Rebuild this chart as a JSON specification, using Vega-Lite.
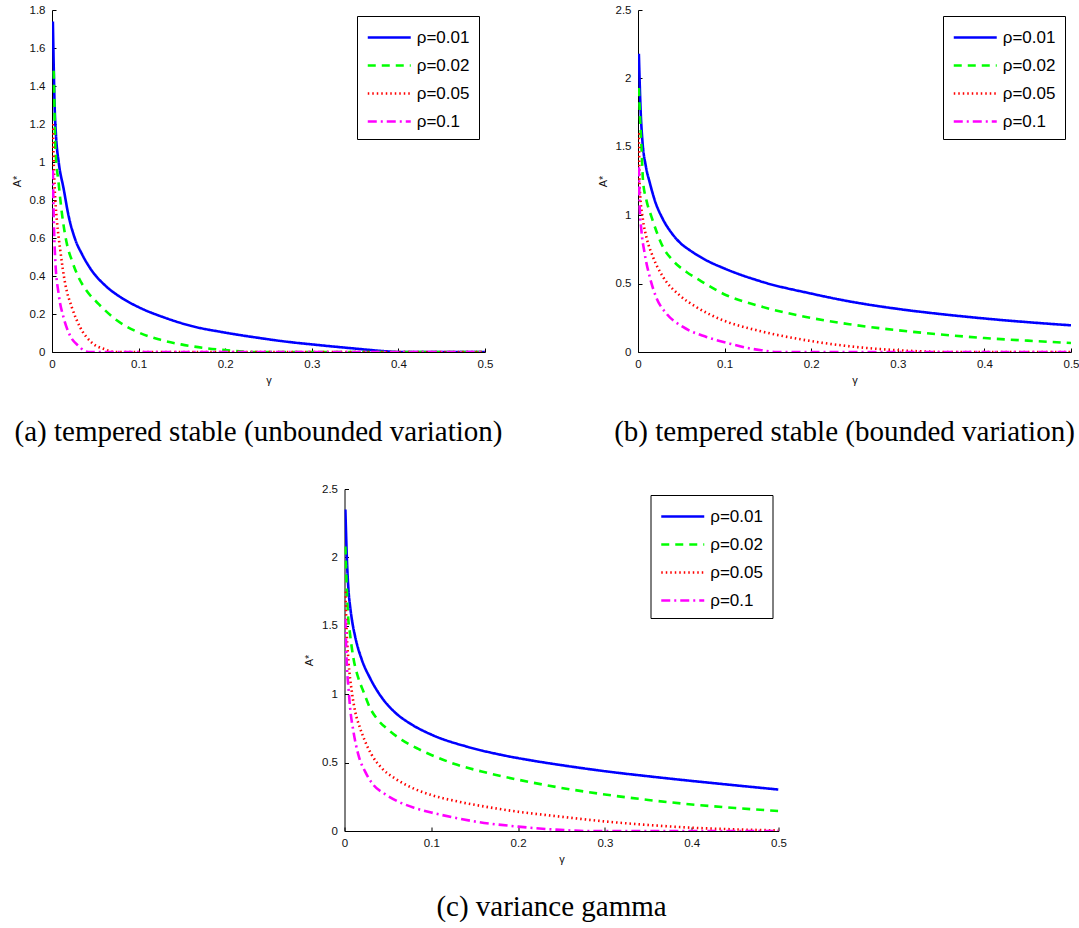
{
  "$schema": "https://vega.github.io/schema/vega-lite/v6.json",
  "padding": {"left": 11, "top": 4, "right": 0, "bottom": 0},
  "background": "white",
  "datasets": {
    "a": [
      {"rho": "ρ=0.01", "g": 0.001, "v": 1.74}, {"rho": "ρ=0.01", "g": 0.002, "v": 1.5}, {"rho": "ρ=0.01", "g": 0.003, "v": 1.3}, {"rho": "ρ=0.01", "g": 0.0046, "v": 1.14}, {"rho": "ρ=0.01", "g": 0.0077, "v": 1.0}, {"rho": "ρ=0.01", "g": 0.0134, "v": 0.86}, {"rho": "ρ=0.01", "g": 0.019, "v": 0.72}, {"rho": "ρ=0.01", "g": 0.027, "v": 0.59}, {"rho": "ρ=0.01", "g": 0.0345, "v": 0.516}, {"rho": "ρ=0.01", "g": 0.046, "v": 0.428}, {"rho": "ρ=0.01", "g": 0.061, "v": 0.352}, {"rho": "ρ=0.01", "g": 0.08, "v": 0.286}, {"rho": "ρ=0.01", "g": 0.1, "v": 0.236}, {"rho": "ρ=0.01", "g": 0.13, "v": 0.181}, {"rho": "ρ=0.01", "g": 0.161, "v": 0.137}, {"rho": "ρ=0.01", "g": 0.2, "v": 0.102}, {"rho": "ρ=0.01", "g": 0.2375, "v": 0.075}, {"rho": "ρ=0.01", "g": 0.275, "v": 0.052}, {"rho": "ρ=0.01", "g": 0.3, "v": 0.04}, {"rho": "ρ=0.01", "g": 0.35, "v": 0.018}, {"rho": "ρ=0.01", "g": 0.385, "v": 0.004}, {"rho": "ρ=0.01", "g": 0.4, "v": 0}, {"rho": "ρ=0.01", "g": 0.5, "v": 0},
      {"rho": "ρ=0.02", "g": 0.002, "v": 1.48}, {"rho": "ρ=0.02", "g": 0.003, "v": 1.25}, {"rho": "ρ=0.02", "g": 0.0038, "v": 1.08}, {"rho": "ρ=0.02", "g": 0.0077, "v": 0.886}, {"rho": "ρ=0.02", "g": 0.0115, "v": 0.728}, {"rho": "ρ=0.02", "g": 0.0172, "v": 0.569}, {"rho": "ρ=0.02", "g": 0.023, "v": 0.481}, {"rho": "ρ=0.02", "g": 0.0307, "v": 0.393}, {"rho": "ρ=0.02", "g": 0.04, "v": 0.322}, {"rho": "ρ=0.02", "g": 0.054, "v": 0.252}, {"rho": "ρ=0.02", "g": 0.073, "v": 0.173}, {"rho": "ρ=0.02", "g": 0.096, "v": 0.111}, {"rho": "ρ=0.02", "g": 0.123, "v": 0.067}, {"rho": "ρ=0.02", "g": 0.149, "v": 0.04}, {"rho": "ρ=0.02", "g": 0.18, "v": 0.019}, {"rho": "ρ=0.02", "g": 0.203, "v": 0.009}, {"rho": "ρ=0.02", "g": 0.22, "v": 0.002}, {"rho": "ρ=0.02", "g": 0.23, "v": 0}, {"rho": "ρ=0.02", "g": 0.5, "v": 0},
      {"rho": "ρ=0.05", "g": 0.001, "v": 1.2}, {"rho": "ρ=0.05", "g": 0.002, "v": 1.0}, {"rho": "ρ=0.05", "g": 0.0038, "v": 0.8}, {"rho": "ρ=0.05", "g": 0.0057, "v": 0.69}, {"rho": "ρ=0.05", "g": 0.0096, "v": 0.534}, {"rho": "ρ=0.05", "g": 0.0153, "v": 0.358}, {"rho": "ρ=0.05", "g": 0.023, "v": 0.234}, {"rho": "ρ=0.05", "g": 0.0326, "v": 0.129}, {"rho": "ρ=0.05", "g": 0.046, "v": 0.049}, {"rho": "ρ=0.05", "g": 0.061, "v": 0.014}, {"rho": "ρ=0.05", "g": 0.073, "v": 0}, {"rho": "ρ=0.05", "g": 0.5, "v": 0},
      {"rho": "ρ=0.1", "g": 0.001, "v": 0.957}, {"rho": "ρ=0.1", "g": 0.002, "v": 0.71}, {"rho": "ρ=0.1", "g": 0.0038, "v": 0.481}, {"rho": "ρ=0.1", "g": 0.0077, "v": 0.305}, {"rho": "ρ=0.1", "g": 0.0134, "v": 0.181}, {"rho": "ρ=0.1", "g": 0.021, "v": 0.085}, {"rho": "ρ=0.1", "g": 0.0307, "v": 0.032}, {"rho": "ρ=0.1", "g": 0.038, "v": 0.005}, {"rho": "ρ=0.1", "g": 0.042, "v": 0}, {"rho": "ρ=0.1", "g": 0.5, "v": 0}
    ],
    "b": [
      {"rho": "ρ=0.01", "g": 0.001, "v": 2.18}, {"rho": "ρ=0.01", "g": 0.003, "v": 1.77}, {"rho": "ρ=0.01", "g": 0.005, "v": 1.55}, {"rho": "ρ=0.01", "g": 0.009, "v": 1.36}, {"rho": "ρ=0.01", "g": 0.0135, "v": 1.24}, {"rho": "ρ=0.01", "g": 0.0193, "v": 1.11}, {"rho": "ρ=0.01", "g": 0.0288, "v": 0.97}, {"rho": "ρ=0.01", "g": 0.04, "v": 0.86}, {"rho": "ρ=0.01", "g": 0.05, "v": 0.79}, {"rho": "ρ=0.01", "g": 0.0596, "v": 0.745}, {"rho": "ρ=0.01", "g": 0.079, "v": 0.67}, {"rho": "ρ=0.01", "g": 0.1, "v": 0.61}, {"rho": "ρ=0.01", "g": 0.144, "v": 0.512}, {"rho": "ρ=0.01", "g": 0.2, "v": 0.427}, {"rho": "ρ=0.01", "g": 0.244, "v": 0.37}, {"rho": "ρ=0.01", "g": 0.3, "v": 0.315}, {"rho": "ρ=0.01", "g": 0.35, "v": 0.277}, {"rho": "ρ=0.01", "g": 0.4, "v": 0.245}, {"rho": "ρ=0.01", "g": 0.45, "v": 0.218}, {"rho": "ρ=0.01", "g": 0.5, "v": 0.195},
      {"rho": "ρ=0.02", "g": 0.001, "v": 1.93}, {"rho": "ρ=0.02", "g": 0.002, "v": 1.77}, {"rho": "ρ=0.02", "g": 0.004, "v": 1.5}, {"rho": "ρ=0.02", "g": 0.0058, "v": 1.25}, {"rho": "ρ=0.02", "g": 0.0097, "v": 1.11}, {"rho": "ρ=0.02", "g": 0.0155, "v": 0.99}, {"rho": "ρ=0.02", "g": 0.0288, "v": 0.768}, {"rho": "ρ=0.02", "g": 0.04, "v": 0.67}, {"rho": "ρ=0.02", "g": 0.056, "v": 0.585}, {"rho": "ρ=0.02", "g": 0.071, "v": 0.525}, {"rho": "ρ=0.02", "g": 0.102, "v": 0.415}, {"rho": "ρ=0.02", "g": 0.137, "v": 0.342}, {"rho": "ρ=0.02", "g": 0.194, "v": 0.256}, {"rho": "ρ=0.02", "g": 0.244, "v": 0.203}, {"rho": "ρ=0.02", "g": 0.3, "v": 0.159}, {"rho": "ρ=0.02", "g": 0.35, "v": 0.128}, {"rho": "ρ=0.02", "g": 0.4, "v": 0.102}, {"rho": "ρ=0.02", "g": 0.45, "v": 0.083}, {"rho": "ρ=0.02", "g": 0.5, "v": 0.066},
      {"rho": "ρ=0.05", "g": 0.001, "v": 1.6}, {"rho": "ρ=0.05", "g": 0.002, "v": 1.2}, {"rho": "ρ=0.05", "g": 0.0058, "v": 0.963}, {"rho": "ρ=0.05", "g": 0.0097, "v": 0.84}, {"rho": "ρ=0.05", "g": 0.0173, "v": 0.695}, {"rho": "ρ=0.05", "g": 0.0288, "v": 0.55}, {"rho": "ρ=0.05", "g": 0.048, "v": 0.415}, {"rho": "ρ=0.05", "g": 0.067, "v": 0.33}, {"rho": "ρ=0.05", "g": 0.098, "v": 0.232}, {"rho": "ρ=0.05", "g": 0.137, "v": 0.159}, {"rho": "ρ=0.05", "g": 0.183, "v": 0.098}, {"rho": "ρ=0.05", "g": 0.244, "v": 0.042}, {"rho": "ρ=0.05", "g": 0.3, "v": 0.013}, {"rho": "ρ=0.05", "g": 0.33, "v": 0.004}, {"rho": "ρ=0.05", "g": 0.35, "v": 0}, {"rho": "ρ=0.05", "g": 0.5, "v": 0},
      {"rho": "ρ=0.1", "g": 0.001, "v": 1.35}, {"rho": "ρ=0.1", "g": 0.002, "v": 1.05}, {"rho": "ρ=0.1", "g": 0.0039, "v": 0.89}, {"rho": "ρ=0.1", "g": 0.0077, "v": 0.72}, {"rho": "ρ=0.1", "g": 0.0135, "v": 0.55}, {"rho": "ρ=0.1", "g": 0.021, "v": 0.4}, {"rho": "ρ=0.1", "g": 0.033, "v": 0.28}, {"rho": "ρ=0.1", "g": 0.052, "v": 0.183}, {"rho": "ρ=0.1", "g": 0.079, "v": 0.11}, {"rho": "ρ=0.1", "g": 0.106, "v": 0.061}, {"rho": "ρ=0.1", "g": 0.13, "v": 0.025}, {"rho": "ρ=0.1", "g": 0.144, "v": 0.012}, {"rho": "ρ=0.1", "g": 0.16, "v": 0}, {"rho": "ρ=0.1", "g": 0.5, "v": 0}
    ],
    "c": [
      {"rho": "ρ=0.01", "g": 0.001, "v": 2.35}, {"rho": "ρ=0.01", "g": 0.003, "v": 1.95}, {"rho": "ρ=0.01", "g": 0.0046, "v": 1.76}, {"rho": "ρ=0.01", "g": 0.0065, "v": 1.64}, {"rho": "ρ=0.01", "g": 0.0084, "v": 1.55}, {"rho": "ρ=0.01", "g": 0.0123, "v": 1.42}, {"rho": "ρ=0.01", "g": 0.02, "v": 1.251}, {"rho": "ρ=0.01", "g": 0.0295, "v": 1.117}, {"rho": "ρ=0.01", "g": 0.043, "v": 0.975}, {"rho": "ρ=0.01", "g": 0.058, "v": 0.868}, {"rho": "ρ=0.01", "g": 0.077, "v": 0.78}, {"rho": "ρ=0.01", "g": 0.1, "v": 0.705}, {"rho": "ρ=0.01", "g": 0.142, "v": 0.615}, {"rho": "ρ=0.01", "g": 0.181, "v": 0.556}, {"rho": "ρ=0.01", "g": 0.219, "v": 0.512}, {"rho": "ρ=0.01", "g": 0.26, "v": 0.472}, {"rho": "ρ=0.01", "g": 0.3, "v": 0.437}, {"rho": "ρ=0.01", "g": 0.35, "v": 0.4}, {"rho": "ρ=0.01", "g": 0.4, "v": 0.366}, {"rho": "ρ=0.01", "g": 0.45, "v": 0.334}, {"rho": "ρ=0.01", "g": 0.5, "v": 0.303},
      {"rho": "ρ=0.02", "g": 0.001, "v": 2.08}, {"rho": "ρ=0.02", "g": 0.0027, "v": 1.76}, {"rho": "ρ=0.02", "g": 0.0038, "v": 1.605}, {"rho": "ρ=0.02", "g": 0.0065, "v": 1.434}, {"rho": "ρ=0.02", "g": 0.0103, "v": 1.263}, {"rho": "ρ=0.02", "g": 0.016, "v": 1.117}, {"rho": "ρ=0.02", "g": 0.0218, "v": 1.02}, {"rho": "ρ=0.02", "g": 0.0295, "v": 0.898}, {"rho": "ρ=0.02", "g": 0.037, "v": 0.824}, {"rho": "ρ=0.02", "g": 0.0506, "v": 0.739}, {"rho": "ρ=0.02", "g": 0.066, "v": 0.666}, {"rho": "ρ=0.02", "g": 0.085, "v": 0.6}, {"rho": "ρ=0.02", "g": 0.1, "v": 0.556}, {"rho": "ρ=0.02", "g": 0.127, "v": 0.49}, {"rho": "ρ=0.02", "g": 0.158, "v": 0.435}, {"rho": "ρ=0.02", "g": 0.2, "v": 0.375}, {"rho": "ρ=0.02", "g": 0.25, "v": 0.315}, {"rho": "ρ=0.02", "g": 0.3, "v": 0.267}, {"rho": "ρ=0.02", "g": 0.35, "v": 0.227}, {"rho": "ρ=0.02", "g": 0.4, "v": 0.194}, {"rho": "ρ=0.02", "g": 0.45, "v": 0.168}, {"rho": "ρ=0.02", "g": 0.5, "v": 0.146},
      {"rho": "ρ=0.05", "g": 0.001, "v": 1.75}, {"rho": "ρ=0.05", "g": 0.0027, "v": 1.43}, {"rho": "ρ=0.05", "g": 0.0046, "v": 1.239}, {"rho": "ρ=0.05", "g": 0.0084, "v": 1.02}, {"rho": "ρ=0.05", "g": 0.0123, "v": 0.873}, {"rho": "ρ=0.05", "g": 0.018, "v": 0.751}, {"rho": "ρ=0.05", "g": 0.0238, "v": 0.654}, {"rho": "ρ=0.05", "g": 0.0314, "v": 0.556}, {"rho": "ρ=0.05", "g": 0.043, "v": 0.459}, {"rho": "ρ=0.05", "g": 0.058, "v": 0.385}, {"rho": "ρ=0.05", "g": 0.077, "v": 0.318}, {"rho": "ρ=0.05", "g": 0.1, "v": 0.263}, {"rho": "ρ=0.05", "g": 0.131, "v": 0.215}, {"rho": "ρ=0.05", "g": 0.162, "v": 0.178}, {"rho": "ρ=0.05", "g": 0.2, "v": 0.141}, {"rho": "ρ=0.05", "g": 0.25, "v": 0.104}, {"rho": "ρ=0.05", "g": 0.3, "v": 0.07}, {"rho": "ρ=0.05", "g": 0.35, "v": 0.044}, {"rho": "ρ=0.05", "g": 0.4, "v": 0.024}, {"rho": "ρ=0.05", "g": 0.45, "v": 0.012}, {"rho": "ρ=0.05", "g": 0.5, "v": 0.004},
      {"rho": "ρ=0.1", "g": 0.001, "v": 1.55}, {"rho": "ρ=0.1", "g": 0.0015, "v": 1.434}, {"rho": "ρ=0.1", "g": 0.0027, "v": 1.215}, {"rho": "ρ=0.1", "g": 0.0046, "v": 1.044}, {"rho": "ρ=0.1", "g": 0.0065, "v": 0.898}, {"rho": "ρ=0.1", "g": 0.0103, "v": 0.727}, {"rho": "ρ=0.1", "g": 0.016, "v": 0.556}, {"rho": "ρ=0.1", "g": 0.0238, "v": 0.434}, {"rho": "ρ=0.1", "g": 0.0333, "v": 0.337}, {"rho": "ρ=0.1", "g": 0.0467, "v": 0.27}, {"rho": "ρ=0.1", "g": 0.062, "v": 0.215}, {"rho": "ρ=0.1", "g": 0.08, "v": 0.17}, {"rho": "ρ=0.1", "g": 0.1, "v": 0.135}, {"rho": "ρ=0.1", "g": 0.125, "v": 0.1}, {"rho": "ρ=0.1", "g": 0.15, "v": 0.07}, {"rho": "ρ=0.1", "g": 0.2, "v": 0.032}, {"rho": "ρ=0.1", "g": 0.234, "v": 0.014}, {"rho": "ρ=0.1", "g": 0.26, "v": 0.004}, {"rho": "ρ=0.1", "g": 0.28, "v": 0}, {"rho": "ρ=0.1", "g": 0.5, "v": 0}
    ]
  },
  "spacing": 36,
  "center": true,
  "resolve": {
    "scale": {"color": "independent", "strokeDash": "independent", "strokeWidth": "independent"},
    "legend": {"color": "independent", "strokeDash": "independent", "strokeWidth": "independent"}
  },
  "vconcat": [
    {
      "bounds": "flush",
      "spacing": 153,
      "resolve": {
        "scale": {"color": "independent", "strokeDash": "independent", "strokeWidth": "independent"},
        "legend": {"color": "independent", "strokeDash": "independent", "strokeWidth": "independent"}
      },
      "hconcat": [
        {
          "data": {"name": "a"},
          "width": 433,
          "height": 342,
          "title": {"text": "(a) tempered stable (unbounded variation)"},
          "mark": {"type": "line", "interpolate": "monotone", "clip": true},
          "encoding": {
            "x": {"field": "g", "type": "quantitative", "scale": {"domain": [0, 0.5], "nice": false}, "axis": {"values": [0, 0.1, 0.2, 0.3, 0.4, 0.5], "title": "γ"}},
            "y": {"field": "v", "type": "quantitative", "scale": {"domain": [0, 1.8], "nice": false}, "axis": {"values": [0, 0.2, 0.4, 0.6, 0.8, 1, 1.2, 1.4, 1.6, 1.8], "title": "A*"}},
            "color": {"field": "rho", "type": "nominal", "scale": {"domain": ["ρ=0.01", "ρ=0.02", "ρ=0.05", "ρ=0.1"], "range": ["#0000ff", "#00ff00", "#ff0000", "#ff00ff"]}, "legend": {"title": null}},
            "strokeDash": {"field": "rho", "type": "nominal", "scale": {"domain": ["ρ=0.01", "ρ=0.02", "ρ=0.05", "ρ=0.1"], "range": [[1, 0], [8, 6], [1.5, 3], [9, 4, 2, 4]]}, "legend": {"title": null}},
            "strokeWidth": {"field": "rho", "type": "nominal", "scale": {"domain": ["ρ=0.01", "ρ=0.02", "ρ=0.05", "ρ=0.1"], "range": [2.6, 2.6, 1, 2.6]}, "legend": {"title": null}}
          }
        },
        {
          "data": {"name": "b"},
          "width": 433,
          "height": 342,
          "title": {"text": "(b) tempered stable (bounded variation)"},
          "mark": {"type": "line", "interpolate": "monotone", "clip": true},
          "encoding": {
            "x": {"field": "g", "type": "quantitative", "scale": {"domain": [0, 0.5], "nice": false}, "axis": {"values": [0, 0.1, 0.2, 0.3, 0.4, 0.5], "title": "γ"}},
            "y": {"field": "v", "type": "quantitative", "scale": {"domain": [0, 2.5], "nice": false}, "axis": {"values": [0, 0.5, 1, 1.5, 2, 2.5], "title": "A*"}},
            "color": {"field": "rho", "type": "nominal", "scale": {"domain": ["ρ=0.01", "ρ=0.02", "ρ=0.05", "ρ=0.1"], "range": ["#0000ff", "#00ff00", "#ff0000", "#ff00ff"]}, "legend": {"title": null}},
            "strokeDash": {"field": "rho", "type": "nominal", "scale": {"domain": ["ρ=0.01", "ρ=0.02", "ρ=0.05", "ρ=0.1"], "range": [[1, 0], [8, 6], [1.5, 3], [9, 4, 2, 4]]}, "legend": {"title": null}},
            "strokeWidth": {"field": "rho", "type": "nominal", "scale": {"domain": ["ρ=0.01", "ρ=0.02", "ρ=0.05", "ρ=0.1"], "range": [2.6, 2.6, 1, 2.6]}, "legend": {"title": null}}
          }
        }
      ]
    },
    {
      "data": {"name": "c"},
      "width": 434,
      "height": 342,
      "title": {"text": "(c) variance gamma", "offset": 28},
      "mark": {"type": "line", "interpolate": "monotone", "clip": true},
      "encoding": {
        "x": {"field": "g", "type": "quantitative", "scale": {"domain": [0, 0.5], "nice": false}, "axis": {"values": [0, 0.1, 0.2, 0.3, 0.4, 0.5], "title": "γ"}},
        "y": {"field": "v", "type": "quantitative", "scale": {"domain": [0, 2.5], "nice": false}, "axis": {"values": [0, 0.5, 1, 1.5, 2, 2.5], "title": "A*"}},
        "color": {"field": "rho", "type": "nominal", "scale": {"domain": ["ρ=0.01", "ρ=0.02", "ρ=0.05", "ρ=0.1"], "range": ["#0000ff", "#00ff00", "#ff0000", "#ff00ff"]}, "legend": {"title": null}},
        "strokeDash": {"field": "rho", "type": "nominal", "scale": {"domain": ["ρ=0.01", "ρ=0.02", "ρ=0.05", "ρ=0.1"], "range": [[1, 0], [8, 6], [1.5, 3], [9, 4, 2, 4]]}, "legend": {"title": null}},
        "strokeWidth": {"field": "rho", "type": "nominal", "scale": {"domain": ["ρ=0.01", "ρ=0.02", "ρ=0.05", "ρ=0.1"], "range": [2.6, 2.6, 1, 2.6]}, "legend": {"title": null}}
      }
    }
  ],
  "config": {
    "view": {"stroke": null},
    "axis": {
      "grid": false,
      "domainColor": "#000",
      "domainWidth": 1,
      "tickColor": "#000",
      "tickSize": -4,
      "labelFont": "Liberation Sans",
      "labelFontSize": 11.5,
      "labelColor": "#111",
      "labelPadding": 10,
      "labelFlush": false,
      "labelOverlap": false,
      "titleFont": "Liberation Sans",
      "titleFontSize": 11,
      "titleFontWeight": "normal",
      "titleColor": "#111",
      "titlePadding": 5,
      "format": "~g"
    },
    "axisY": {"labelPadding": 11, "titlePadding": 7},
    "legend": {
      "orient": "top-right",
      "offset": 6,
      "symbolType": "M-2,0H2",
      "symbolSize": 462,
      "symbolOffset": 10.75,
      "labelFont": "Liberation Sans",
      "labelFontSize": 17,
      "labelColor": "#000",
      "labelOffset": 15,
      "strokeColor": "#000",
      "fillColor": "#fff",
      "padding": 9,
      "rowPadding": 7
    },
    "title": {
      "orient": "bottom",
      "anchor": "middle",
      "font": "Liberation Serif",
      "fontSize": 29,
      "fontWeight": "normal",
      "color": "#000",
      "offset": 32,
      "dx": -10
    }
  }
}
